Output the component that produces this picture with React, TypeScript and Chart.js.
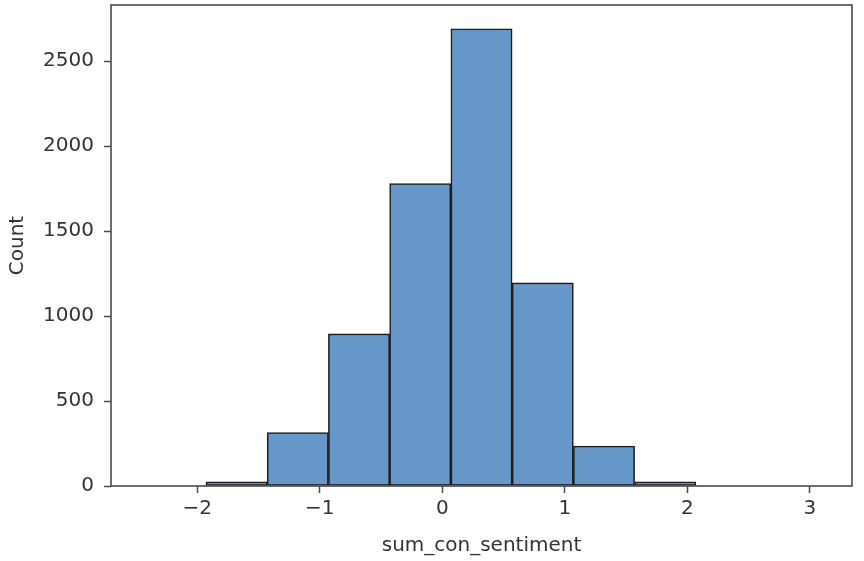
import React, { useEffect, useRef } from "react";
import { Chart, registerables } from "chart.js";

Chart.register(...registerables);

// Histogram bins (centers) and counts
const binCenters = [-1.68, -1.18, -0.68, -0.18, 0.32, 0.82, 1.32, 1.82];
const counts = [25, 315, 895, 1780, 2690, 1195, 235, 25];
const xTicks = [-2, -1, 0, 1, 2, 3];
const yTicks = [0, 500, 1000, 1500, 2000, 2500];
const xLabel = "sum_con_sentiment";
const yLabel = "Count";

const spinePlugin = {
  id: "spines",
  afterDraw(chart: any) {
    const { ctx, chartArea } = chart;
    ctx.save();
    ctx.strokeStyle = "#4a4a4a";
    ctx.lineWidth = 1.6;
    ctx.strokeRect(chartArea.left, chartArea.top, chartArea.right - chartArea.left, chartArea.bottom - chartArea.top);
    ctx.restore();
  },
};

export default function App() {
  const ref = useRef<HTMLCanvasElement>(null);
  useEffect(() => {
    document.body.style.margin = "0";
    if (!ref.current) return;
    Chart.defaults.font.family = "'DejaVu Sans', sans-serif";
    const chart = new Chart(ref.current, {
      type: "bar",
      data: {
        datasets: [
          {
            data: binCenters.map((x, i) => ({ x, y: counts[i] })),
            backgroundColor: "#6697c8",
            borderColor: "#1c1c1c",
            borderWidth: 1.6,
            borderSkipped: false,
            barPercentage: 1,
            categoryPercentage: 1,
          },
        ],
      },
      options: {
        animation: false,
        responsive: false,
        maintainAspectRatio: false,
        layout: { padding: { top: 5, right: 12, left: 0, bottom: 0 } },
        plugins: { legend: { display: false }, tooltip: { enabled: false } },
        scales: {
          x: {
            type: "linear",
            offset: false,
            min: -2.705,
            max: 3.345,
            afterFit: (s: any) => {
              s.height = 75;
              s.paddingLeft = 0;
              s.paddingRight = 0;
            },
            afterBuildTicks: (s: any) => {
              s.ticks = xTicks.map((v) => ({ value: v }));
            },
            ticks: {
              includeBounds: false,
              padding: 4,
              color: "#333",
              font: { size: 20 },
              maxRotation: 0,
              callback: (v: any) => (v < 0 ? "\u2212" + Math.abs(v) : String(v)),
            },
            grid: {
              display: true,
              offset: false,
              drawOnChartArea: false,
              drawTicks: true,
              tickLength: 7,
              tickColor: "#4a4a4a",
              tickWidth: 1.5,
            },
            border: { display: false },
            title: {
              display: true,
              text: xLabel,
              color: "#333",
              font: { size: 20 },
              padding: { top: 0, bottom: 3 },
            },
          },
          y: {
            min: 0,
            max: 2830,
            afterFit: (s: any) => {
              s.width = 111;
              s.paddingTop = 0;
              s.paddingBottom = 0;
            },
            afterBuildTicks: (s: any) => {
              s.ticks = yTicks.map((v) => ({ value: v }));
            },
            ticks: {
              includeBounds: false,
              padding: 10,
              color: "#333",
              font: { size: 20 },
              callback: (v: any) => String(v),
            },
            grid: {
              display: true,
              drawOnChartArea: false,
              drawTicks: true,
              tickLength: 7,
              tickColor: "#4a4a4a",
              tickWidth: 1.5,
            },
            border: { display: false },
            title: {
              display: true,
              text: yLabel,
              color: "#333",
              font: { size: 20 },
              padding: { top: 6, bottom: 0 },
            },
          },
        },
      },
      plugins: [spinePlugin],
    });
    return () => chart.destroy();
  }, []);
  return (
    <div style={{ position: "relative", width: 864, height: 561, background: "#fff" }}>
      <canvas ref={ref} width={864} height={561} style={{ display: "block", width: 864, height: 561 }} />
    </div>
  );
}
